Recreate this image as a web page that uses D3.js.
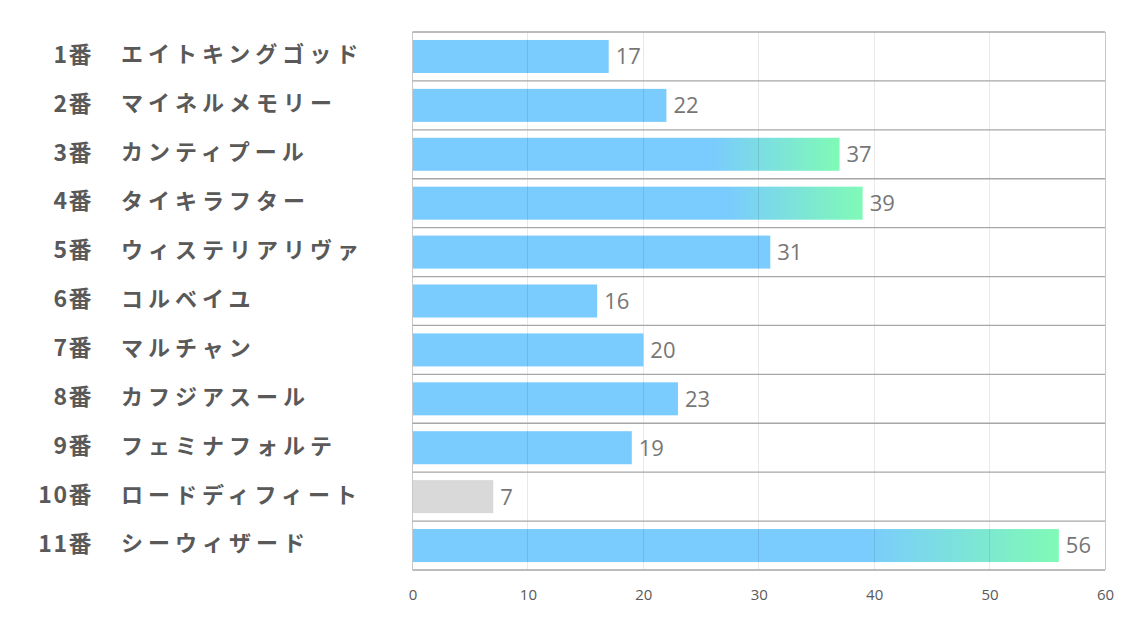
<!DOCTYPE html>
<html><head><meta charset="utf-8">
<script src="https://cdn.jsdelivr.net/npm/d3@7"></script>
<style>
html,body{margin:0;padding:0;background:#fff;}
svg{display:block;}
</style></head>
<body><svg id="chart" width="1134" height="623"></svg>
<script>
const numbers = ["1番","2番","3番","4番","5番","6番","7番","8番","9番","10番","11番"];
const names = ["エイトキングゴッド","マイネルメモリー","カンティプール","タイキラフター","ウィステリアリヴァ","コルベイユ","マルチャン","カフジアスール","フェミナフォルテ","ロードディフィート","シーウィザード"];
const values = [17,22,37,39,31,16,20,23,19,7,56];
const xTicks = [0,10,20,30,40,50,60];

(function(){
const svg = d3.select("#chart");
const pL = 412.5, pR = 1105, pT = 32, pB = 570;
const x = d3.scaleLinear().domain([0,60]).range([pL,pR]);
const y = d3.scaleBand().domain(d3.range(values.length)).range([pT,pB]).paddingInner(0).paddingOuter(0);
const barH = y.bandwidth()*0.675;

const sorted = values.slice().sort((a,b)=>b-a);
const topThresh = sorted[2];
const minVal = d3.min(values);

const defs = svg.append("defs");
const grad = defs.append("linearGradient").attr("id","g").attr("x1","0").attr("x2","1").attr("y1","0").attr("y2","0");
grad.append("stop").attr("offset","0%").attr("stop-color","#7acbfe");
grad.append("stop").attr("offset","70%").attr("stop-color","#7acbfe");
grad.append("stop").attr("offset","100%").attr("stop-color","#7ffab6");

svg.append("g").selectAll("rect").data(values).join("rect")
  .attr("x", x(0))
  .attr("y", (d,i)=>y(i)+(y.bandwidth()-barH)/2)
  .attr("width", d=>x(d)-x(0))
  .attr("height", barH)
  .attr("fill", d=> d===minVal ? "#d9d9d9" : (d>=topThresh ? "url(#g)" : "#7acbfe"));

svg.append("g").selectAll("line").data(xTicks).join("line")
  .attr("x1", d=>x(d)).attr("x2", d=>x(d))
  .attr("y1", pT).attr("y2", pB)
  .attr("stroke", (d)=> (d===0||d===60) ? "#c8c8c8" : "rgba(0,0,0,0.09)")
  .attr("stroke-width",1)
  .attr("shape-rendering","crispEdges");

const hs = d3.range(values.length+1).map(i=> i<values.length ? y(i) : pB);
svg.append("g").selectAll("line").data(hs).join("line")
  .attr("x1", pL).attr("x2", pR)
  .attr("y1", d=>d).attr("y2", d=>d)
  .attr("stroke","#a6a6a6").attr("stroke-width",1.3);

svg.append("g").selectAll("text").data(values).join("text")
  .attr("x", d=>x(d)+7)
  .attr("y", (d,i)=>y(i)+y.bandwidth()/2)
  .attr("dy","0.36em")
  .attr("font-family","'Open Sans','Noto Sans',sans-serif")
  .attr("font-size",22)
  .attr("fill","#767676")
  .text(d=>d);

const axis = d3.axisBottom(x).tickValues(xTicks).tickSize(0).tickPadding(0);
const ax = svg.append("g").attr("transform",`translate(0,${pB})`).call(axis);
ax.select(".domain").remove();
ax.selectAll("text").attr("y",30).attr("dy",0)
  .attr("font-family","'Open Sans','Noto Sans',sans-serif")
  .attr("font-size",15).attr("fill","#595959");

const lab = svg.append("g");
lab.selectAll("text.num").data(numbers).join("text").attr("class","num")
  .attr("x",93).attr("y",(d,i)=>y(i)+y.bandwidth()/2-2)
  .attr("dy","0.36em").attr("text-anchor","end")
  .attr("font-family","'Noto Sans CJK JP',sans-serif").attr("font-weight","bold")
  .attr("font-size",23).attr("letter-spacing","1.5px").attr("fill","#595959").text(d=>d);
lab.selectAll("text.nm").data(names).join("text").attr("class","nm")
  .attr("x",121).attr("y",(d,i)=>y(i)+y.bandwidth()/2-2)
  .attr("dy","0.36em")
  .attr("font-family","'Noto Sans CJK JP',sans-serif").attr("font-weight","bold")
  .attr("font-size",22).attr("letter-spacing","5px").attr("fill","#595959").text(d=>d);
})();
</script></body></html>
